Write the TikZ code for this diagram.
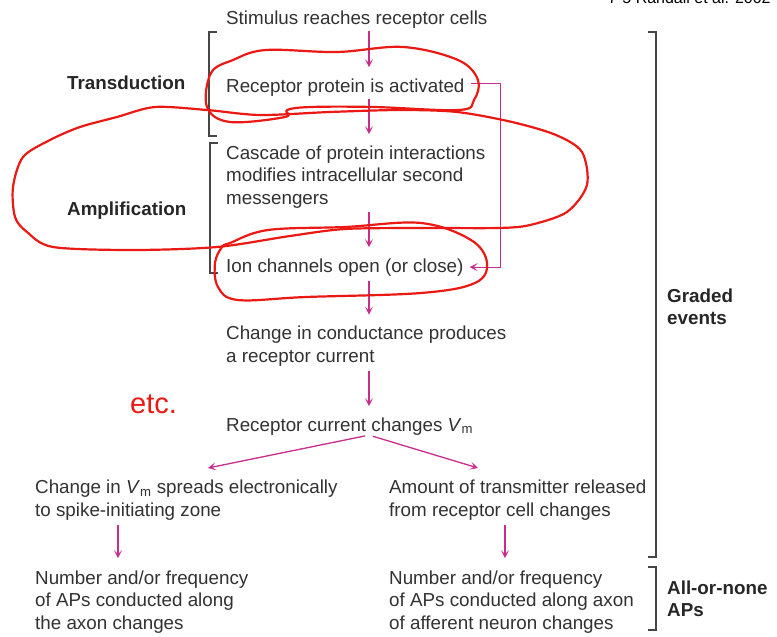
\documentclass[tikz,border=0pt]{standalone}
\usepackage{fontspec}
\setmainfont{Liberation Sans}
\usetikzlibrary{arrows.meta}
\definecolor{txt}{RGB}{50,50,50}
\definecolor{mag}{RGB}{200,45,140}
\definecolor{brk}{RGB}{70,70,70}
\definecolor{ink}{RGB}{235,25,20}
\begin{document}
\begin{tikzpicture}[x=1pt,y=-1pt,
  lbl/.style={font=\fontsize{18.8}{22.5}\selectfont, text=txt, inner sep=0pt, anchor=base west, align=left},
  hd/.style={lbl, font=\fontsize{18.8}{22}\selectfont\bfseries, text=black!85},
  arr/.style={draw=mag, line width=1.3pt, -{Stealth[length=8pt,width=8pt,inset=4pt]}},
  fb/.style={draw=mag, line width=1pt, -{Stealth[length=8pt,width=8pt,inset=4pt]}},
  brace/.style={draw=brk, line width=1.4pt},
  redline/.style={draw=ink, line width=2.2pt, line join=round}]
\clip (0,0) rectangle (777,637);
\fill[white] (0,0) rectangle (777,637);

% multi-line nodes: base = baseline of the last line
\node[lbl] (stim) at (226,24) {Stimulus reaches receptor cells};
\node[lbl] (rec) at (226,92) {Receptor protein is activated};
\node[lbl] (casc) at (226,204) {Cascade of protein interactions\\modifies intracellular second\\messengers};
\node[lbl] (ion) at (226,272) {Ion channels open (or close)};
\node[lbl] (cond) at (226,362) {Change in conductance produces\\a receptor current};
\node[lbl] (rcur) at (226,431) {Receptor current changes \textit{V}\textsubscript{m}};
\node[lbl] (spread) at (35,516) {Change in \textit{V}\textsubscript{m} spreads electronically\\to spike-initiating zone};
\node[lbl] (trans) at (389,516) {Amount of transmitter released\\from receptor cell changes};
\node[lbl] (apl) at (35,629) {Number and/or frequency\\of APs conducted along\\the axon changes};
\node[lbl] (apr) at (389,629) {Number and/or frequency\\of APs conducted along axon\\of afferent neuron changes};
\node[hd] (tr) at (67,89) {Transduction};
\node[hd] (amp) at (67,215) {Amplification};
\node[hd] (gr) at (667,324) {Graded\\events};
\node[hd] (ap) at (667,616) {All-or-none\\APs};
\node[lbl, text=black, font=\fontsize{16}{18}\selectfont] (cite) at (608,3.5) {7-5 Randall et al. 2002};
\node[lbl, text=ink, font=\fontsize{29}{30}\selectfont] (etc) at (130,413) {etc.};

\coordinate (cx) at (369,0);
\coordinate (lx) at (118,0);
\coordinate (rx) at (505,0);
\coordinate (fbx) at (500,0);
\coordinate (tipL) at (208,468);
\coordinate (tipR) at (478,468);

\draw[arr, shorten <=3pt, shorten >=11pt] (stim.south -| cx) -- (rec.north -| cx);
\draw[arr, shorten <=3pt, shorten >=11pt] (rec.south -| cx) -- (casc.north -| cx);
\draw[arr, shorten <=4pt, shorten >=11pt] (casc.south -| cx) -- (ion.north -| cx);
\draw[arr, shorten <=5pt, shorten >=11pt] (ion.south -| cx) -- (cond.north -| cx);
\draw[arr, shorten <=5pt, shorten >=11pt] (cond.south -| cx) -- (rcur.north -| cx);
\draw[arr, shorten <=4pt] (rcur.south -| cx) -- (tipL);
\draw[arr, shorten <=4pt] (rcur.south -| cx) -- (tipR);
\draw[arr, shorten <=5pt, shorten >=12pt] (spread.south -| lx) -- (apl.north -| lx);
\draw[arr, shorten <=5pt, shorten >=12pt] (trans.south -| rx) -- (apr.north -| rx);

\coordinate (fbs) at ([xshift=6pt,yshift=4pt]rec.east);
\draw[fb] (fbs) -- (fbs -| fbx) -- (ion.east -| fbx) -- ([xshift=6pt]ion.east);

\draw[brace] (217,32) -- (209,32) -- (209,136) -- (217,136);
\draw[brace] (218,143) -- (210,143) -- (210,273) -- (218,273);
\draw[brace] (648,32) -- (656,32) -- (656,557) -- (648,557);
\draw[brace] (648,567) -- (656,567) -- (656,630) -- (648,630);

\draw[redline] plot[smooth cycle, tension=0.6] coordinates {(266,50) (337,52) (403,47) (458,60) (478,80) (474,100) (459,110) (374,107) (311,107) (287,110) (285,117) (230,122) (207,107) (211,73) (233,60)};
\draw[redline] plot[smooth cycle, tension=0.5] coordinates {(80,127) (117,117) (155,107) (207,110) (260,115) (330,112) (400,110) (457,112) (512,122) (556,135) (582,152) (587,185) (567,212) (530,225) (498,228) (420,228) (345,229) (290,236) (217,247) (133,250) (53,247) (27,232) (15,217) (13,187) (23,157) (50,140)};
\draw[redline] plot[smooth cycle, tension=0.6] coordinates {(230,243) (268,230) (345,227) (421,223) (471,240) (487,263) (475,283) (421,293) (306,297) (238,300) (218,287) (215,263) (222,247)};
\end{tikzpicture}
\end{document}
